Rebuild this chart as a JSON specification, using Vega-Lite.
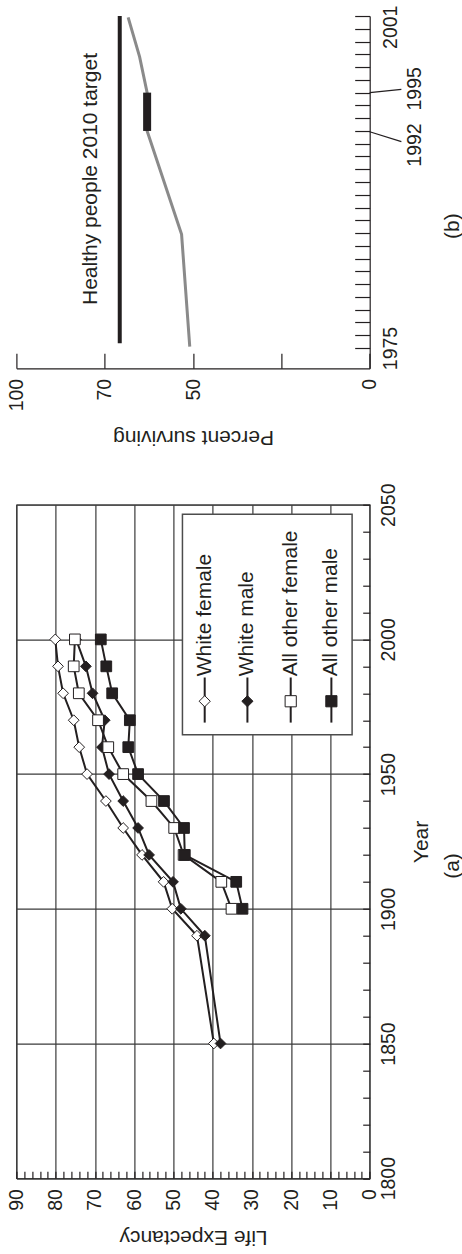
{
  "$schema": "https://vega.github.io/schema/vega-lite/v6.json",
  "background": "white",
  "padding": {"left": 5.4, "top": 5, "right": 4, "bottom": 6},
  "bounds": "flush",
  "spacing": 135.7,
  "config": {
    "font": "Liberation Sans",
    "view": {"stroke": null},
    "axis": {
      "labelFont": "Liberation Sans", "titleFont": "Liberation Sans",
      "labelColor": "#231f20", "titleColor": "#231f20",
      "labelFontSize": 19.5, "titleFontSize": 21, "titleFontWeight": "normal",
      "domainColor": "#231f20", "tickColor": "#231f20", "gridColor": "#3a3a3a",
      "domainWidth": 1.2, "tickWidth": 1.2, "gridWidth": 1.2,
      "labelOverlap": false, "labelBound": false, "labelFlush": false
    },
    "text": {"font": "Liberation Sans", "color": "#231f20"}
  },
  "datasets": {
    "survival": [
      {"year": 1975.1, "pct": 50.75},
      {"year": 1983.9, "pct": 52.6},
      {"year": 1992, "pct": 60.4},
      {"year": 1995, "pct": 60.4},
      {"year": 1997.8, "pct": 62.1},
      {"year": 2000.9, "pct": 64.7}
    ],
    "target": [
      {"year": 1975.37, "pct": 66.6},
      {"year": 2001, "pct": 66.6}
    ],
    "highlight": [{"year": 1992, "year2": 1995, "pct": 60.4}],
    "callouts": [
      {"label": "1992", "year": 1991.94, "year2": 1991.16, "textYear": 1990.9},
      {"label": "1995", "year": 1995, "year2": 1995.26, "textYear": 1995.3}
    ],
    "life": [
      {"series": "White female", "year": 1850, "le": 39.7},
      {"series": "White female", "year": 1890, "le": 44.0},
      {"series": "White female", "year": 1900, "le": 50.3},
      {"series": "White female", "year": 1910, "le": 52.5},
      {"series": "White female", "year": 1920, "le": 58.0},
      {"series": "White female", "year": 1930, "le": 62.8},
      {"series": "White female", "year": 1940, "le": 67.2},
      {"series": "White female", "year": 1950, "le": 72.0},
      {"series": "White female", "year": 1960, "le": 74.0},
      {"series": "White female", "year": 1970, "le": 75.4},
      {"series": "White female", "year": 1980, "le": 78.1},
      {"series": "White female", "year": 1990, "le": 79.4},
      {"series": "White female", "year": 2000, "le": 80.1},
      {"series": "White male", "year": 1850, "le": 38.0},
      {"series": "White male", "year": 1890, "le": 42.0},
      {"series": "White male", "year": 1900, "le": 48.1},
      {"series": "White male", "year": 1910, "le": 50.1},
      {"series": "White male", "year": 1920, "le": 56.2},
      {"series": "White male", "year": 1930, "le": 59.0},
      {"series": "White male", "year": 1940, "le": 62.8},
      {"series": "White male", "year": 1950, "le": 66.4},
      {"series": "White male", "year": 1960, "le": 68.2},
      {"series": "White male", "year": 1970, "le": 67.5},
      {"series": "White male", "year": 1980, "le": 70.6},
      {"series": "White male", "year": 1990, "le": 72.3},
      {"series": "White male", "year": 2000, "le": 74.8},
      {"series": "All other female", "year": 1900, "le": 35.2},
      {"series": "All other female", "year": 1910, "le": 37.8},
      {"series": "All other female", "year": 1920, "le": 47.4},
      {"series": "All other female", "year": 1930, "le": 49.8},
      {"series": "All other female", "year": 1940, "le": 55.6},
      {"series": "All other female", "year": 1950, "le": 62.8},
      {"series": "All other female", "year": 1960, "le": 66.6},
      {"series": "All other female", "year": 1970, "le": 69.2},
      {"series": "All other female", "year": 1980, "le": 74.1},
      {"series": "All other female", "year": 1990, "le": 75.4},
      {"series": "All other female", "year": 2000, "le": 75.1},
      {"series": "All other male", "year": 1900, "le": 32.4},
      {"series": "All other male", "year": 1910, "le": 34.0},
      {"series": "All other male", "year": 1920, "le": 47.1},
      {"series": "All other male", "year": 1930, "le": 47.3},
      {"series": "All other male", "year": 1940, "le": 52.4},
      {"series": "All other male", "year": 1950, "le": 59.0},
      {"series": "All other male", "year": 1960, "le": 61.5},
      {"series": "All other male", "year": 1970, "le": 61.1},
      {"series": "All other male", "year": 1980, "le": 65.6},
      {"series": "All other male", "year": 1990, "le": 67.1},
      {"series": "All other male", "year": 2000, "le": 68.5}
    ],
    "legend": [
      {"series": "White female", "le": 42.03},
      {"series": "White male", "le": 31.15},
      {"series": "All other female", "le": 20.12},
      {"series": "All other male", "le": 9.76}
    ]
  },
  "vconcat": [
    {
      "width": 353.3,
      "height": 352.3,
      "layer": [
        {
          "data": {"name": "target"},
          "mark": {"type": "line", "stroke": "#231f20", "strokeWidth": 4, "strokeCap": "butt"},
          "encoding": {
            "x": {
              "field": "pct", "type": "quantitative",
              "scale": {"domain": [100, 70, 50, 0], "range": [0, 88.33, 176.67, 353.3], "nice": false, "zero": false},
              "axis": {
                "orient": "bottom", "values": [100, 70, 50, 25, 0], "tickCount": 500, "format": "d",
                "labelExpr": "datum.value === 25 ? '' : datum.label",
                "tickSize": -15, "labelPadding": 25, "labelAngle": 270,
                "labelAlign": "right", "labelBaseline": "middle", "grid": false,
                "title": "Percent surviving", "titleAngle": 180, "titleBaseline": "bottom", "titlePadding": 16
              }
            },
            "y": {
              "field": "year", "type": "quantitative",
              "scale": {"domain": [1973.41, 2001], "nice": false, "zero": false},
              "axis": {
                "orient": "right", "format": "d", "tickCount": 500,
                "values": [1975, 1976, 1977, 1978, 1979, 1980, 1981, 1982, 1983, 1984, 1985, 1986, 1987, 1988, 1989, 1990, 1991, 1992, 1993, 1994, 1995, 1996, 1997, 1998, 1999, 2000, 2001],
                "labelExpr": "datum.value === 1975 || datum.value === 2001 ? datum.label : ''",
                "tickSize": -15, "labelPadding": 27, "labelAngle": 270,
                "labelAlign": "center", "labelBaseline": "top",
                "labelOffset": {"condition": {"test": "datum.value === 2001", "value": 10.7}, "value": 0},
                "grid": false, "title": null
              }
            }
          }
        },
        {
          "data": {"name": "survival"},
          "mark": {"type": "line", "stroke": "#8a8a8a", "strokeWidth": 3},
          "encoding": {
            "x": {"field": "pct", "type": "quantitative"},
            "y": {"field": "year", "type": "quantitative"},
            "order": {"field": "year", "type": "quantitative"}
          }
        },
        {
          "data": {"name": "highlight"},
          "mark": {"type": "rule", "stroke": "#231f20", "strokeWidth": 8, "strokeCap": "butt"},
          "encoding": {
            "x": {"field": "pct", "type": "quantitative"},
            "y": {"field": "year", "type": "quantitative"},
            "y2": {"field": "year2"}
          }
        },
        {
          "data": {"values": [{"label": "Healthy people 2010 target"}]},
          "mark": {"type": "text", "angle": 270, "align": "left", "baseline": "middle", "fontSize": 21},
          "encoding": {
            "x": {"datum": 74.7, "type": "quantitative"},
            "y": {"datum": 1978.37, "type": "quantitative"},
            "text": {"field": "label"}
          }
        },
        {
          "data": {"name": "callouts"},
          "mark": {"type": "rule", "stroke": "#231f20", "strokeWidth": 1.2},
          "encoding": {
            "x": {"datum": 0, "type": "quantitative"},
            "x2": {"datum": -8.97},
            "y": {"field": "year", "type": "quantitative"},
            "y2": {"field": "year2"}
          }
        },
        {
          "data": {"name": "callouts"},
          "mark": {"type": "text", "angle": 270, "align": "center", "baseline": "middle", "fontSize": 19.5},
          "encoding": {
            "x": {"datum": -12.93, "type": "quantitative"},
            "y": {"field": "textYear", "type": "quantitative"},
            "text": {"field": "label"}
          }
        },
        {
          "data": {"values": [{"label": "(b)"}]},
          "mark": {"type": "text", "angle": 270, "align": "center", "baseline": "middle", "fontSize": 21},
          "encoding": {
            "x": {"datum": -23.7, "type": "quantitative"},
            "y": {"datum": 1984.55, "type": "quantitative"},
            "text": {"field": "label"}
          }
        }
      ]
    },
    {
      "width": 353.3,
      "height": 673.5,
      "view": {"stroke": "#3a3a3a", "strokeWidth": 1.2},
      "layer": [
        {
          "data": {"name": "life"},
          "mark": {"type": "line", "stroke": "#231f20", "strokeWidth": 2},
          "encoding": {
            "x": {
              "field": "le", "type": "quantitative",
              "scale": {"domain": [0, 90], "reverse": true, "nice": false, "zero": false},
              "axis": {
                "orient": "bottom", "tickCount": 500, "format": "d",
                "values": [0, 2, 4, 6, 8, 10, 12, 14, 16, 18, 20, 22, 24, 26, 28, 30, 32, 34, 36, 38, 40, 42, 44, 46, 48, 50, 52, 54, 56, 58, 60, 62, 64, 66, 68, 70, 72, 74, 76, 78, 80, 82, 84, 86, 88, 90],
                "labelExpr": "datum.value % 10 === 0 ? datum.label : ''",
                "tickSize": -7, "labelPadding": 17.5, "labelAngle": 270,
                "labelAlign": "right", "labelBaseline": "middle",
                "grid": true,
                "gridOpacity": {"condition": {"test": "datum.value % 10 === 0", "value": 1}, "value": 0},
                "domain": false,
                "title": "Life Expectancy", "titleAngle": 180, "titleBaseline": "bottom", "titlePadding": 16
              }
            },
            "y": {
              "field": "year", "type": "quantitative",
              "scale": {"domain": [1800, 2050], "nice": false, "zero": false},
              "axis": {
                "orient": "right", "format": "d", "tickCount": 500,
                "values": [1800, 1810, 1820, 1830, 1840, 1850, 1860, 1870, 1880, 1890, 1900, 1910, 1920, 1930, 1940, 1950, 1960, 1970, 1980, 1990, 2000, 2010, 2020, 2030, 2040, 2050],
                "labelExpr": "datum.value % 50 === 0 ? datum.label : ''",
                "tickSize": -7, "labelPadding": 17.3, "labelAngle": 270,
                "labelAlign": "center", "labelBaseline": "top",
                "grid": true,
                "gridOpacity": {"condition": {"test": "datum.value % 50 === 0", "value": 1}, "value": 0},
                "domain": false,
                "title": "Year", "titleAngle": 270, "titleBaseline": "top", "titlePadding": 12
              }
            },
            "detail": {"field": "series"},
            "order": {"field": "year", "type": "quantitative"}
          }
        },
        {
          "data": {"name": "life"},
          "mark": {"type": "point", "filled": true, "stroke": "#231f20", "strokeWidth": 1, "size": 115, "opacity": 1},
          "encoding": {
            "x": {"field": "le", "type": "quantitative"},
            "y": {"field": "year", "type": "quantitative"},
            "shape": {"field": "series", "type": "nominal", "scale": {"domain": ["White female", "White male", "All other female", "All other male"], "range": ["diamond", "diamond", "square", "square"]}, "legend": null},
            "fill": {"field": "series", "type": "nominal", "scale": {"domain": ["White female", "White male", "All other female", "All other male"], "range": ["#ffffff", "#231f20", "#ffffff", "#231f20"]}, "legend": null}
          }
        },
        {
          "data": {"values": [{}]},
          "mark": {"type": "rect", "fill": "white", "stroke": "#4d4d4d", "strokeWidth": 1.5},
          "encoding": {
            "x": {"datum": 47.7, "type": "quantitative"},
            "x2": {"datum": 4.48},
            "y": {"datum": 2046.5, "type": "quantitative"},
            "y2": {"datum": 1964.65}
          }
        },
        {
          "data": {"name": "legend"},
          "mark": {"type": "rule", "stroke": "#231f20", "strokeWidth": 2},
          "encoding": {
            "x": {"field": "le", "type": "quantitative"},
            "y": {"datum": 1985.86, "type": "quantitative"},
            "y2": {"datum": 1969.12}
          }
        },
        {
          "data": {"name": "legend"},
          "mark": {"type": "point", "filled": true, "stroke": "#231f20", "strokeWidth": 1, "size": 125, "opacity": 1},
          "encoding": {
            "x": {"field": "le", "type": "quantitative"},
            "y": {"datum": 1977.04, "type": "quantitative"},
            "shape": {"field": "series", "type": "nominal", "legend": null},
            "fill": {"field": "series", "type": "nominal", "legend": null}
          }
        },
        {
          "data": {"name": "legend"},
          "mark": {"type": "text", "angle": 270, "align": "left", "baseline": "middle", "fontSize": 21},
          "encoding": {
            "x": {"field": "le", "type": "quantitative"},
            "y": {"datum": 1986.3, "type": "quantitative"},
            "text": {"field": "series"}
          }
        },
        {
          "data": {"values": [{"label": "(a)"}]},
          "mark": {"type": "text", "angle": 270, "align": "center", "baseline": "middle", "fontSize": 21},
          "encoding": {
            "x": {"datum": -21.3, "type": "quantitative"},
            "y": {"datum": 1915.9, "type": "quantitative"},
            "text": {"field": "label"}
          }
        }
      ]
    }
  ]
}
